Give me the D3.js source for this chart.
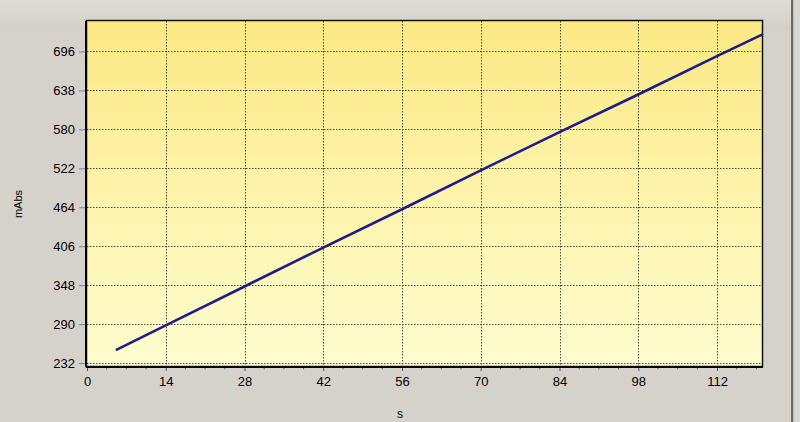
<!DOCTYPE html>
<html><head><meta charset="utf-8">
<script src="https://cdn.jsdelivr.net/npm/d3@7"></script>
<style>
html,body{margin:0;padding:0;background:#d5d2cb;}
svg{display:block;font-family:Arial,"Liberation Sans",sans-serif;}
</style></head><body>
<svg id="c" width="800" height="422"></svg>
<script>
const times  = [5.3, 14, 28, 42, 56, 70, 84, 98, 112, 120];
const values = [252, 288, 346, 404, 461, 519, 576, 632, 689, 721];
const xTicks = [0, 14, 28, 42, 56, 70, 84, 98, 112];
const yTicks = [232, 290, 348, 406, 464, 522, 580, 638, 696];
const xLabel = "s";
const yLabel = "mAbs";

const svg = d3.select("#c");
const W = 800, H = 422;
const m = {left: 87, top: 21, right: 762, bottom: 366};

const x = d3.scaleLinear().domain([0, 120]).range([m.left, m.right]);
const y = d3.scaleLinear().domain([227.6, 741.4]).range([m.bottom, m.top]);

// background
svg.append("rect").attr("width", W).attr("height", H).attr("fill", "#d5d2cb");
const defs = svg.append("defs");
const bgG = defs.append("linearGradient").attr("id","bgg").attr("x1",0).attr("y1",0).attr("x2",0).attr("y2",1);
bgG.append("stop").attr("offset","0%").attr("stop-color","#dedcd6");
bgG.append("stop").attr("offset","100%").attr("stop-color","#d3d0c9");
svg.append("rect").attr("width", W).attr("height", 30).attr("fill","url(#bgg)");
// right window border
svg.append("rect").attr("x", 791).attr("y", 0).attr("width", 2.5).attr("height", H).attr("fill", "#6b6b6b");
svg.append("rect").attr("x", 793.5).attr("y", 0).attr("width", 7).attr("height", H).attr("fill", "#d9d7d1");

// plot gradient
const g = defs.append("linearGradient").attr("id","pg").attr("x1",0).attr("y1",0).attr("x2",0).attr("y2",1);
g.append("stop").attr("offset","0%").attr("stop-color","#fce984");
g.append("stop").attr("offset","50%").attr("stop-color","#fdf3aa");
g.append("stop").attr("offset","100%").attr("stop-color","#fffdcf");
svg.append("rect").attr("x", m.left).attr("y", m.top)
  .attr("width", m.right - m.left).attr("height", m.bottom - m.top).attr("fill","url(#pg)");

// grid
const grid = svg.append("g").attr("stroke","#4a4a40").attr("stroke-width",1).attr("stroke-dasharray","1.5,1.5");
grid.selectAll("line.v").data(xTicks.filter(d => d > 0)).join("line")
  .attr("x1", d => Math.round(x(d)) + 0.5).attr("x2", d => Math.round(x(d)) + 0.5)
  .attr("y1", m.top).attr("y2", m.bottom);
grid.selectAll("line.h").data(yTicks).join("line")
  .attr("y1", d => Math.round(y(d)) + 0.5).attr("y2", d => Math.round(y(d)) + 0.5)
  .attr("x1", m.left).attr("x2", m.right);

// x axis
const xAxis = d3.axisBottom(x).tickValues(xTicks).tickSize(5).tickPadding(6).tickFormat(d3.format("d"));
const xa = svg.append("g").attr("transform", `translate(0,${m.bottom})`).call(xAxis);
xa.select(".domain").remove();
xa.selectAll(".tick line").attr("stroke","#555");
xa.selectAll("text").attr("font-size", 13).attr("fill","#000");
const minor = d3.range(0, 121, 3.5).filter(d => xTicks.indexOf(d) < 0);
svg.append("g").selectAll("line").data(minor).join("line")
  .attr("x1", d => x(d)).attr("x2", d => x(d))
  .attr("y1", m.bottom).attr("y2", m.bottom + 3.5).attr("stroke","#666");

// y axis
const yAxis = d3.axisLeft(y).tickValues(yTicks).tickSize(6).tickPadding(4).tickFormat(d3.format("d"));
const ya = svg.append("g").attr("transform", `translate(${m.left - 2},0)`).call(yAxis);
ya.select(".domain").remove();
ya.selectAll(".tick line").attr("stroke","#7a7f9a");
ya.selectAll("text").attr("font-size", 13).attr("fill","#000");

// border
svg.append("rect").attr("x", m.left - 0.5).attr("y", m.top - 0.5)
  .attr("width", m.right - m.left + 1).attr("height", m.bottom - m.top + 1)
  .attr("fill","none").attr("stroke","#111").attr("stroke-width",1.5);
svg.append("line").attr("x1", m.left - 1).attr("x2", m.left - 1).attr("y1", m.top).attr("y2", m.bottom + 1)
  .attr("stroke","#000").attr("stroke-width",2);
svg.append("line").attr("x1", m.left - 1).attr("x2", m.right + 1).attr("y1", m.bottom + 1).attr("y2", m.bottom + 1)
  .attr("stroke","#000").attr("stroke-width",2);

// data line
const pts = times.map((t, i) => [t, values[i]]);
svg.append("path").datum(pts)
  .attr("d", d3.line().x(d => x(d[0])).y(d => y(d[1])))
  .attr("fill","none").attr("stroke","#1c1c8a").attr("stroke-width",2.6).attr("stroke-linecap","round");

// axis labels
svg.append("text").attr("x", 400).attr("y", 418).attr("text-anchor","middle")
  .attr("font-size", 12).attr("fill","#000").text(xLabel);
svg.append("text").attr("transform","translate(22,204) rotate(-90)").attr("text-anchor","middle")
  .attr("font-size", 11).attr("fill","#000").text(yLabel);
</script>
</body></html>
